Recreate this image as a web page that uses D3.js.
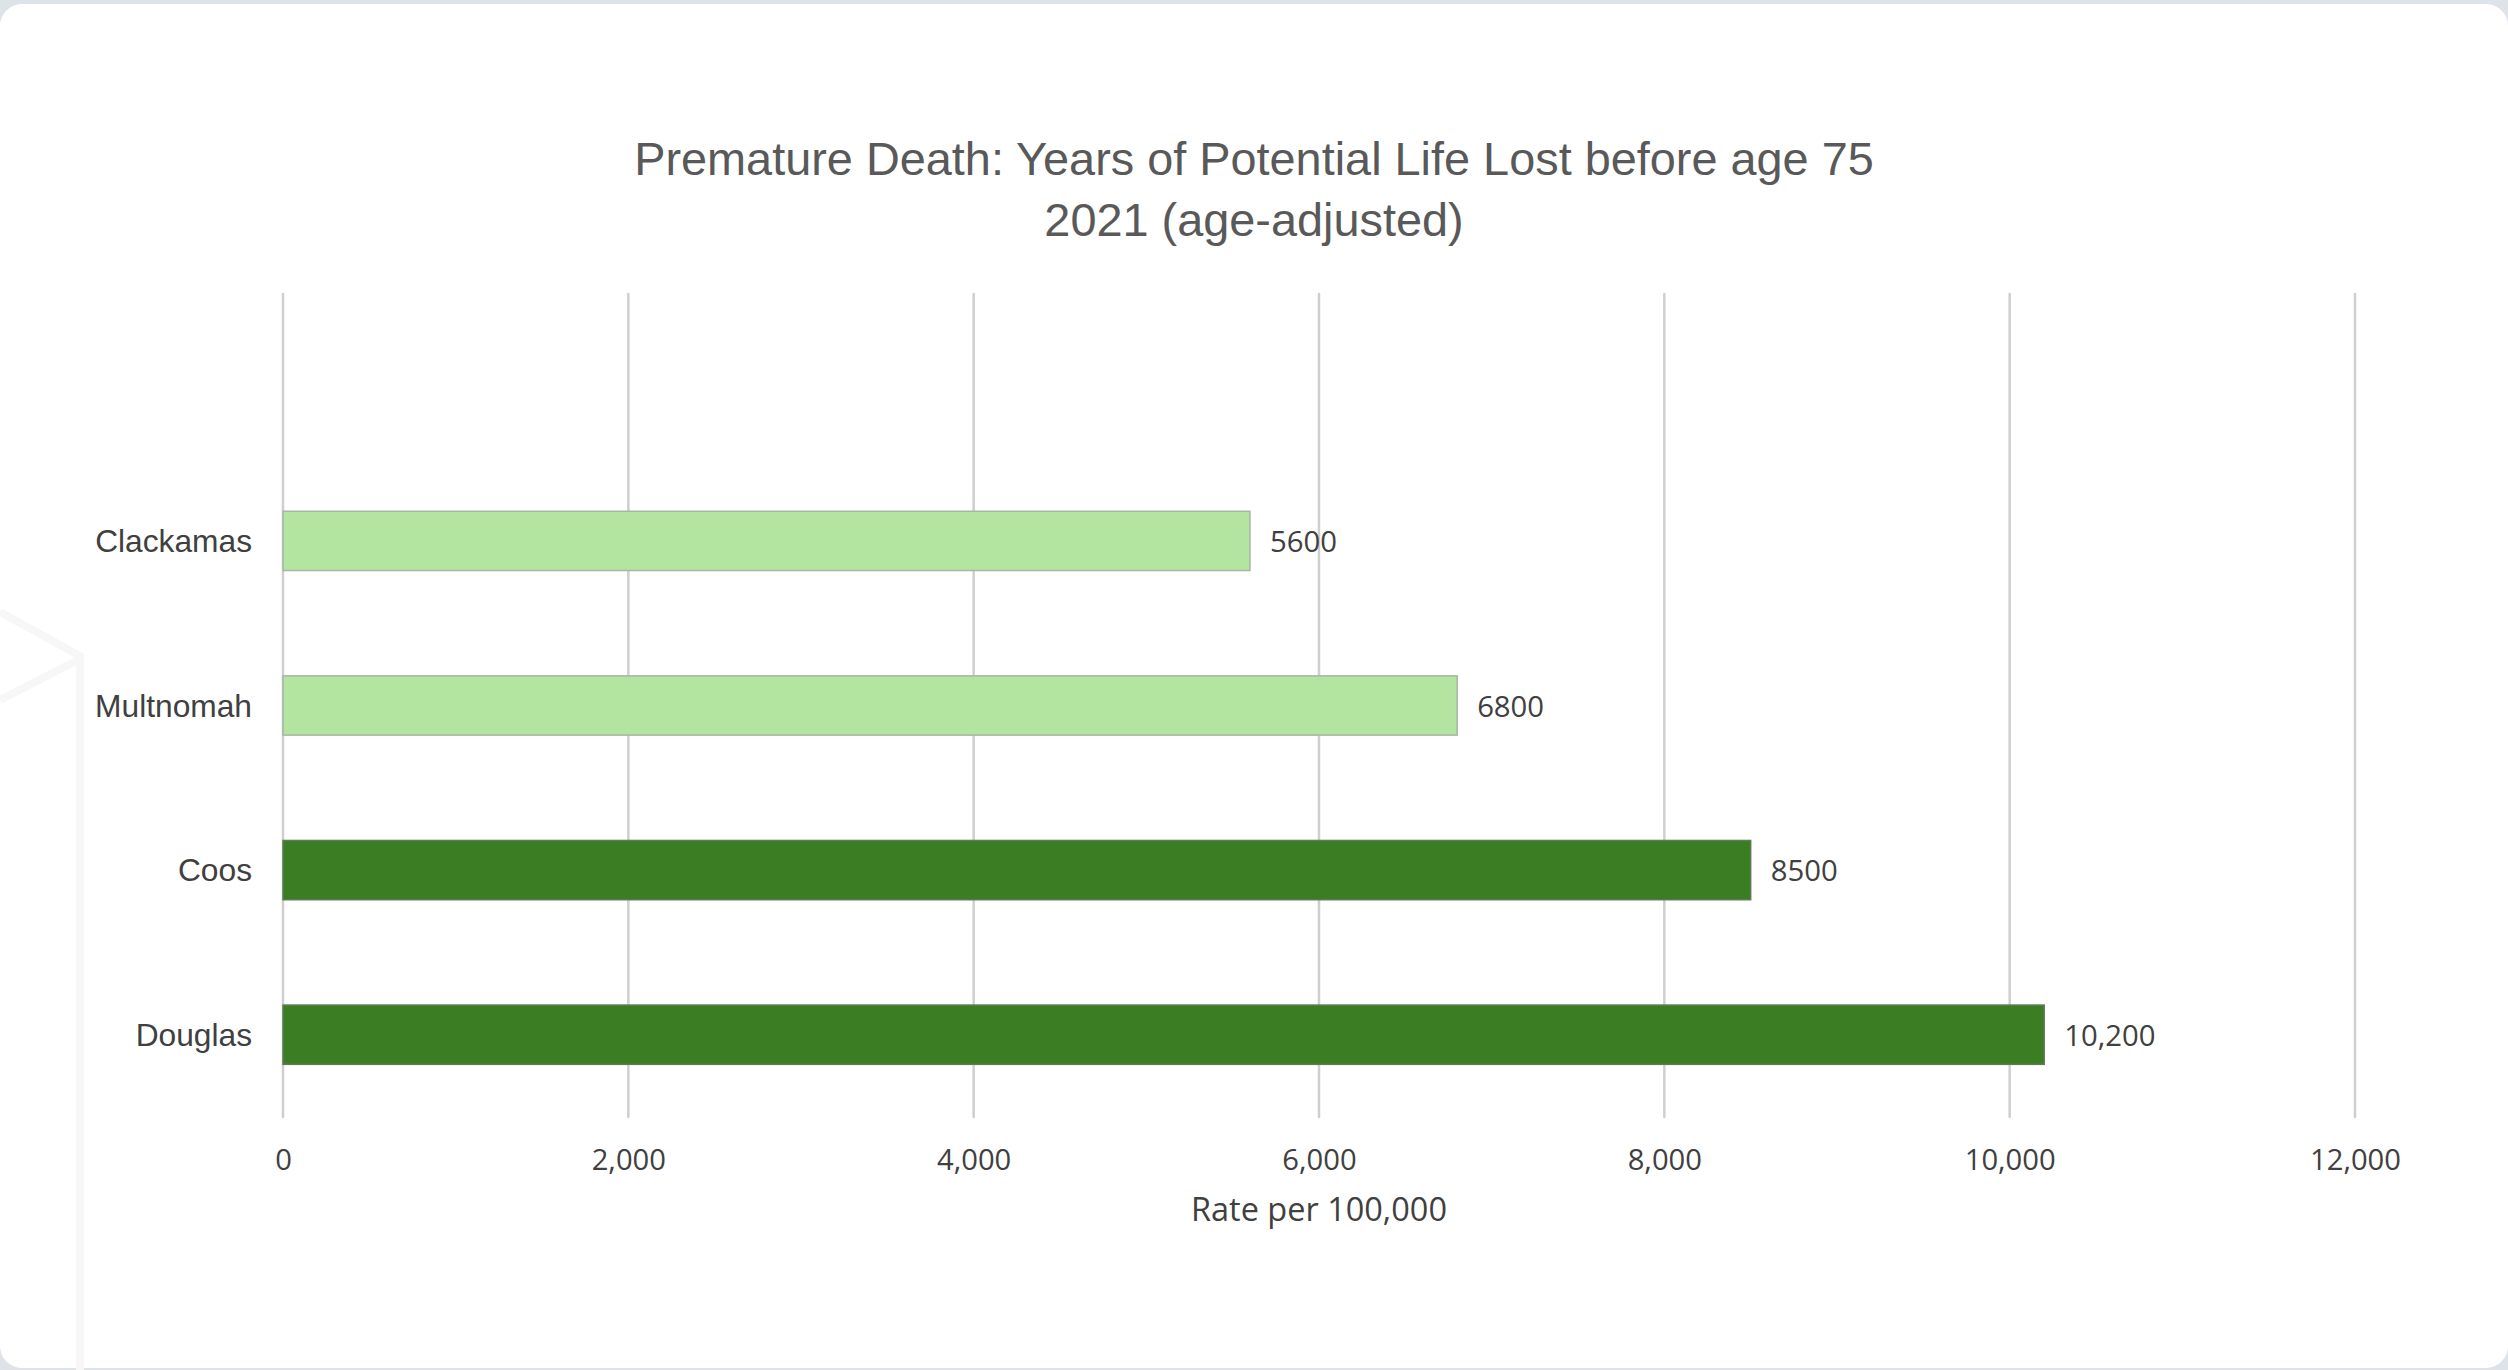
<!DOCTYPE html>
<html>
<head>
<meta charset="utf-8">
<script src="https://cdn.jsdelivr.net/npm/d3@7"></script>
<style>
  html, body { margin: 0; padding: 0; background: #dde3e9; }
  svg { display: block; }
</style>
</head>
<body>
<svg id="chart" width="2508" height="1370"></svg>
<script>
// ---- data ----
const titleLines = ["Premature Death: Years of Potential Life Lost before age 75", "2021 (age-adjusted)"];
const categories = ["Clackamas", "Multnomah", "Coos", "Douglas"];
const values = [5600, 6800, 8500, 10200];
const valueLabels = ["5600", "6800", "8500", "10,200"];
const groups = ["light", "light", "dark", "dark"];
const tickValues = [0, 2000, 4000, 6000, 8000, 10000, 12000];
const tickLabels = ["0", "2,000", "4,000", "6,000", "8,000", "10,000", "12,000"];
const axisTitle = "Rate per 100,000";

// ---- layout ----
const W = 2508, H = 1370;
const plot = { left: 283, right: 2355, top: 294, bottom: 1117 };
const FONT = "'Liberation Sans', Arial, sans-serif";
const LFONT = "'Open Sans', 'Noto Sans', sans-serif";

const svg = d3.select("#chart");

// fit a text selection's font size so that a reference node reaches a target width
function fit(sel, refNode, target, base) {
  const w = refNode.getComputedTextLength();
  sel.attr("font-size", base * target / w);
}

// card background
svg.append("rect").attr("x", 0).attr("y", 0).attr("width", W).attr("height", H).attr("fill", "#dde3e9");
svg.append("rect").attr("x", 0).attr("y", 4).attr("width", W).attr("height", H - 6)
  .attr("rx", 22).attr("ry", 22).attr("fill", "#ffffff");

// faint watermark shape
const wm = svg.append("g").attr("fill", "none").attr("stroke", "#f7f7f7").attr("stroke-width", 8);
wm.append("path").attr("d", d3.line()([[0, 612], [80, 656], [80, 1370]]));
wm.append("path").attr("d", d3.line()([[0, 700], [78, 660]]));

const x = d3.scaleLinear().domain([0, 12000]).range([plot.left, plot.right]);
const y = d3.scaleBand().domain(["__blank__", ...categories])
  .range([plot.top, plot.bottom]).paddingInner(0.64).paddingOuter(0.32);
const color = d3.scaleOrdinal().domain(["light", "dark"]).range(["#b3e5a1", "#3a7d22"]);
const stroke = d3.scaleOrdinal().domain(["light", "dark"]).range(["#a9b5a5", "#5f7a55"]);

// gridlines
svg.append("g").selectAll("line").data(tickValues).join("line")
  .attr("x1", d => x(d)).attr("x2", d => x(d))
  .attr("y1", plot.top).attr("y2", plot.bottom)
  .attr("stroke", "#cfcfcf").attr("stroke-width", 2.5).attr("stroke-linecap", "round");

// x tick labels via axis
const xAxis = d3.axisBottom(x).tickValues(tickValues).tickFormat((d, i) => tickLabels[i]).tickSize(0).tickPadding(0);
const gx = svg.append("g").attr("transform", `translate(0, 1170)`).call(xAxis);
gx.select(".domain").remove();
const tickText = gx.selectAll("text").attr("font-family", LFONT).attr("font-size", 28).attr("fill", "#404040")
  .attr("dy", 0).attr("y", 0);
fit(tickText, tickText.nodes()[6], 91, 28);

// bars
const data = categories.map((c, i) => ({ c, v: values[i], g: groups[i], label: valueLabels[i] }));
svg.append("g").selectAll("rect").data(data).join("rect")
  .attr("x", x(0)).attr("y", d => y(d.c))
  .attr("width", d => x(d.v) - x(0)).attr("height", y.bandwidth())
  .attr("fill", d => color(d.g)).attr("stroke", d => stroke(d.g)).attr("stroke-width", 1.5);

// value labels
const vl = svg.append("g").selectAll("text").data(data).join("text")
  .attr("x", d => x(d.v) + 20).attr("y", d => y(d.c) + y.bandwidth() / 2)
  .attr("dominant-baseline", "central")
  .attr("font-family", LFONT).attr("font-size", 28).attr("fill", "#404040")
  .text(d => d.label);
fit(vl, vl.nodes()[0], 67, 28);

// category labels
const cl = svg.append("g").selectAll("text").data(data).join("text")
  .attr("x", 252).attr("y", d => y(d.c) + y.bandwidth() / 2)
  .attr("text-anchor", "end").attr("dominant-baseline", "central")
  .attr("font-family", FONT).attr("font-size", 28).attr("fill", "#404040")
  .text(d => d.c);
fit(cl, cl.nodes()[1], 157, 28);

// axis title
const at = svg.append("text").attr("x", (plot.left + plot.right) / 2).attr("y", 1221)
  .attr("text-anchor", "middle").attr("font-family", LFONT).attr("font-size", 28).attr("fill", "#404040")
  .text(axisTitle);
fit(at, at.node(), 256, 28);

// title
const tg = svg.append("g");
const tt = tg.selectAll("text").data(titleLines).join("text")
  .attr("x", W / 2).attr("y", (d, i) => 175 + i * 61)
  .attr("text-anchor", "middle").attr("font-family", FONT).attr("font-size", 44).attr("fill", "#595959")
  .text(d => d);
fit(tt, tt.nodes()[0], 1240, 44);
</script>
</body>
</html>
